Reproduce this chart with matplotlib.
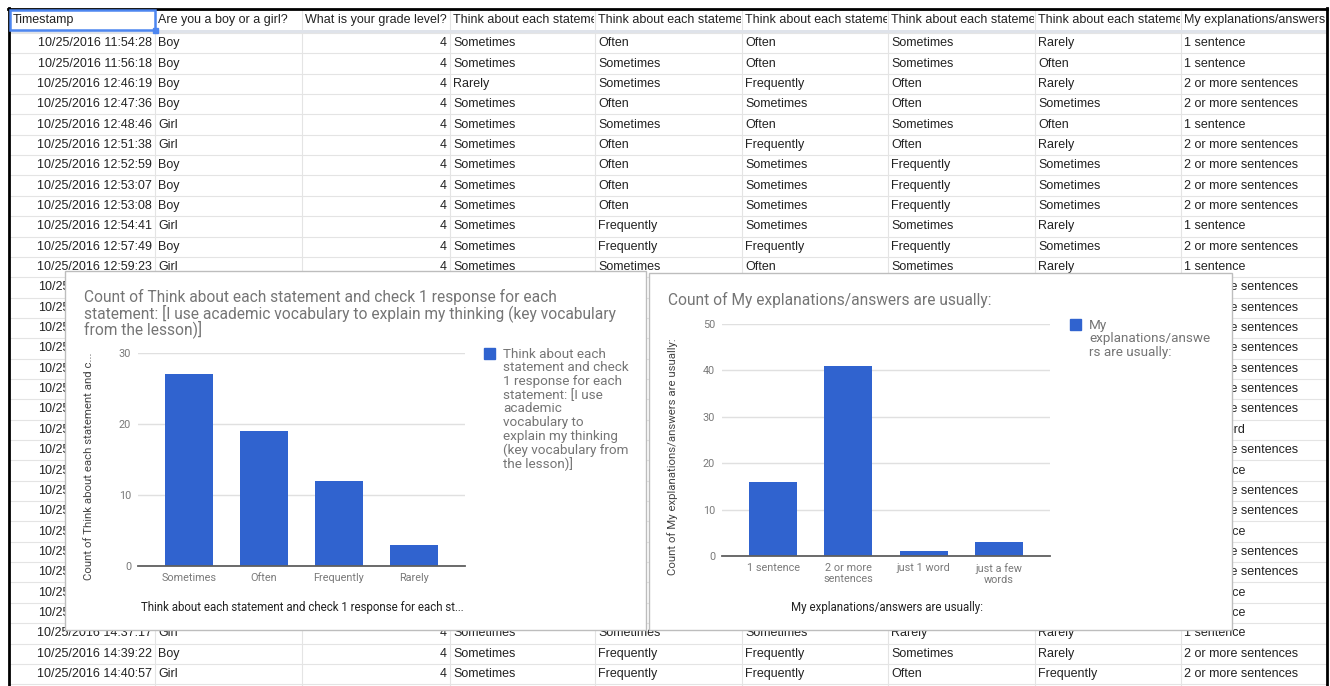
import matplotlib.pyplot as plt
from matplotlib.patches import Rectangle
from matplotlib.transforms import Bbox

plt.rcParams['font.family'] = ['Liberation Sans', 'DejaVu Sans']

W, H = 1330, 686

# ---- form responses sheet ----
question = "Think about each statement and check 1 response for each statement"
headers = ["Timestamp", "Are you a boy or a girl?", "What is your grade level?",
           question, question, question, question, question,
           "My explanations/answers are usually:"]

# rows that are not hidden behind the charts
row_numbers = [0, 1, 2, 3, 4, 5, 6, 7, 8, 9, 10, 11, 29, 30, 31]
timestamps = ["10/25/2016 11:54:28", "10/25/2016 11:56:18", "10/25/2016 12:46:19",
              "10/25/2016 12:47:36", "10/25/2016 12:48:46", "10/25/2016 12:51:38",
              "10/25/2016 12:52:59", "10/25/2016 12:53:07", "10/25/2016 12:53:08",
              "10/25/2016 12:54:41", "10/25/2016 12:57:49", "10/25/2016 12:59:23",
              "10/25/2016 14:37:17", "10/25/2016 14:39:22", "10/25/2016 14:40:57"]
genders = ["Boy", "Boy", "Boy", "Boy", "Girl", "Girl", "Boy", "Boy", "Boy",
           "Girl", "Boy", "Girl", "Girl", "Boy", "Girl"]
grades = [4, 4, 4, 4, 4, 4, 4, 4, 4, 4, 4, 4, 4, 4, 4]
q1 = ["Sometimes", "Sometimes", "Rarely", "Sometimes", "Sometimes", "Sometimes",
      "Sometimes", "Sometimes", "Sometimes", "Sometimes", "Sometimes", "Sometimes",
      "Sometimes", "Sometimes", "Sometimes"]
q2 = ["Often", "Sometimes", "Sometimes", "Often", "Sometimes", "Often", "Often",
      "Often", "Often", "Frequently", "Frequently", "Sometimes",
      "Sometimes", "Frequently", "Frequently"]
q3 = ["Often", "Often", "Frequently", "Sometimes", "Often", "Frequently",
      "Sometimes", "Sometimes", "Sometimes", "Sometimes", "Frequently", "Often",
      "Sometimes", "Frequently", "Frequently"]
q4 = ["Sometimes", "Sometimes", "Often", "Often", "Sometimes", "Often",
      "Frequently", "Frequently", "Frequently", "Sometimes", "Frequently", "Sometimes",
      "Rarely", "Sometimes", "Often"]
q5 = ["Rarely", "Often", "Rarely", "Sometimes", "Often", "Rarely", "Sometimes",
      "Sometimes", "Sometimes", "Rarely", "Sometimes", "Rarely",
      "Rarely", "Rarely", "Frequently"]
explanations = ["1 sentence", "1 sentence", "2 or more sentences", "2 or more sentences",
                "1 sentence", "2 or more sentences", "2 or more sentences",
                "2 or more sentences", "2 or more sentences", "1 sentence",
                "2 or more sentences", "1 sentence",
                "1 sentence", "2 or more sentences", "2 or more sentences"]
# rows 13-29, only the date and the last column peek out
hidden_rows = list(range(12, 29))
hidden_explanations = ["2 or more sentences"] * 7 + ["just 1 word", "2 or more sentences",
                       "1 sentence", "2 or more sentences", "2 or more sentences",
                       "1 sentence", "2 or more sentences", "2 or more sentences",
                       "1 sentence", "1 sentence"]

# ---- chart data ----
vocab_labels = ["Sometimes", "Often", "Frequently", "Rarely"]
vocab_counts = [27, 19, 12, 3]
expl_labels = ["1 sentence", "2 or more\nsentences", "just 1 word", "just a few\nwords"]
expl_counts = [16, 41, 1, 3]

col_edges = [10, 155, 302, 450, 595, 742, 888, 1035, 1181, 1326]
row_h = 20.35
row_top = 33


def row_y(i):
    return row_top + row_h * (i + 0.5)


fig = plt.figure(figsize=(W / 100, H / 100), dpi=100)
bg = fig.add_axes([0, 0, 1, 1])
bg.set_xlim(0, W)
bg.set_ylim(H, 0)
bg.axis('off')

# grid lines
for k in range(33):
    y = row_top + k * row_h
    bg.plot([10, 1326], [y, y], color='#e4e4e4', lw=0.8, zorder=1)
for x in col_edges[1:-1]:
    bg.plot([x, x], [10, H], color='#e4e4e4', lw=0.8, zorder=1)
bg.add_patch(Rectangle((10, 29.5), 1316, 3, color='#dfe3ea', lw=0, zorder=1))

# outer frame
bg.plot([8, 1327], [8.5, 8.5], color='black', lw=2, zorder=2)
bg.plot([8.5, 8.5], [8, H], color='black', lw=2, zorder=2)
bg.plot([1326.5, 1326.5], [8, H], color='black', lw=2, zorder=2)


def cell_text(col, y, s, right=False):
    x0, x1 = col_edges[col], col_edges[col + 1]
    t = bg.text(x1 - 3 if right else x0 + 3, y, s, fontsize=9, color='#222222',
                ha='right' if right else 'left', va='center', zorder=3, clip_on=True)
    # long headers stop at the cell edge (pixel coordinates, origin bottom-left)
    t.set_clip_box(Bbox.from_extents(x0, H - y - 10, x1 - 1, H - y + 10))


for c, h in enumerate(headers):
    cell_text(c, 19.5, h)

for n, r in enumerate(row_numbers):
    y = row_y(r)
    cell_text(0, y, timestamps[n], right=True)
    cell_text(1, y, genders[n])
    cell_text(2, y, str(grades[n]), right=True)
    for c, col in enumerate([q1, q2, q3, q4, q5]):
        cell_text(3 + c, y, col[n])
    cell_text(8, y, explanations[n])

for n, r in enumerate(hidden_rows):
    y = row_y(r)
    bg.text(38, y, "10/25/2016", fontsize=9, color='#222222', va='center', zorder=3)
    cell_text(8, y, hidden_explanations[n])

# selected cell
bg.add_patch(Rectangle((10, 10), 145, 20, fill=False, ec='#4d86f0', lw=1.8, zorder=4))
bg.add_patch(Rectangle((152.5, 27.5), 5, 5, color='#4d86f0', zorder=4))

# ---- chart panels ----
bg.add_patch(Rectangle((65, 271), 581, 359, fc='white', ec='#bdbdbd', lw=1, zorder=5))
bg.add_patch(Rectangle((649, 273), 583, 357, fc='white', ec='#bdbdbd', lw=1, zorder=5))

bar_color = '#3063cf'
roboto = ['Roboto', 'DejaVu Sans']


def chart(box, labels, counts, ymax, step):
    l, t, r, b = box
    ax = fig.add_axes([l / W, 1 - b / H, (r - l) / W, (b - t) / H])
    ax.patch.set_alpha(0)
    ax.bar(range(len(counts)), counts, width=0.64, color=bar_color, zorder=2)
    ax.set_xlim(-0.68, len(counts) - 0.32)
    ax.set_ylim(0, ymax)
    ax.set_yticks(range(0, ymax + 1, step))
    ax.set_xticks(range(len(counts)), labels, linespacing=1.15)
    ax.yaxis.grid(True, color='#e0e0e0', lw=1)
    ax.set_axisbelow(True)
    for s in ['top', 'left', 'right']:
        ax.spines[s].set_visible(False)
    ax.spines['bottom'].set_color('#5f5f5f')
    ax.spines['bottom'].set_linewidth(1.3)
    ax.tick_params(length=0, pad=5, labelsize=7.8, labelcolor='#7a7a7a',
                   labelfontfamily='Roboto')
    return ax


chart((138, 353, 465, 566), vocab_labels, vocab_counts, 30, 10)
chart((722, 324, 1050, 556), expl_labels, expl_counts, 50, 10)

title_left = ["Count of Think about each statement and check 1 response for each",
              "statement: [I use academic vocabulary to explain my thinking (key vocabulary",
              "from the lesson)]"]
for i, line in enumerate(title_left):
    bg.text(84, 297 + 16 * i, line, fontsize=11.2, color='#757575', family=roboto,
            va='center', zorder=6)
bg.text(668, 300, "Count of My explanations/answers are usually:", fontsize=11.2,
        color='#757575', family=roboto, va='center', zorder=6)

# axis titles
bg.text(89, 466, "Count of Think about each statement and c...", fontsize=8.2,
        color='#444444', family=roboto, rotation=90, ha='center', va='center', zorder=6)
bg.text(302, 607, "Think about each statement and check 1 response for each st...",
        fontsize=8.3, color='#222222', family=roboto, ha='center', va='center', zorder=6)
bg.text(673, 457, "Count of My explanations/answers are usually:", fontsize=8.2,
        color='#444444', family=roboto, rotation=90, ha='center', va='center', zorder=6)
bg.text(887, 607, "My explanations/answers are usually:", fontsize=8.3,
        color='#222222', family=roboto, ha='center', va='center', zorder=6)

# legends
legend_left = ["Think about each", "statement and check", "1 response for each",
               "statement: [I use", "academic", "vocabulary to", "explain my thinking",
               "(key vocabulary from", "the lesson)]"]
bg.add_patch(Rectangle((484, 348), 11, 11, color=bar_color, zorder=6))
for i, line in enumerate(legend_left):
    bg.text(503, 354 + 13.7 * i, line, fontsize=9.7, color='#757575', family=roboto,
            va='center', zorder=6)

legend_right = ["My", "explanations/answe", "rs are usually:"]
bg.add_patch(Rectangle((1070, 319), 11, 11, color=bar_color, zorder=6))
for i, line in enumerate(legend_right):
    bg.text(1089, 325 + 13.7 * i, line, fontsize=9.7, color='#757575', family=roboto,
            va='center', zorder=6)

fig.savefig('out.png', dpi=100)
